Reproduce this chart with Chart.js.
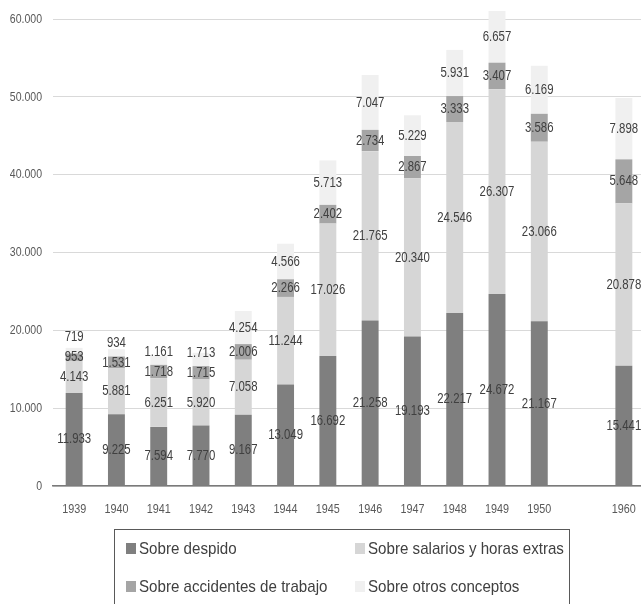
<!DOCTYPE html>
<html>
<head>
<meta charset="utf-8">
<script src="https://cdn.jsdelivr.net/npm/chart.js@4/dist/chart.umd.min.js"></script>
<style>
  html, body { margin: 0; padding: 0; background: #fff; overflow: hidden; }
  #wrap { width: 641px; height: 604px; position: relative; overflow: hidden; }
</style>
</head>
<body>
<div id="wrap"><canvas id="chart" width="645" height="604"></canvas></div>
<script>
// Years on the x axis; the blank slot keeps the gap before 1960
const years = ["1939", "1940", "1941", "1942", "1943", "1944", "1945", "1946", "1947", "1948", "1949", "1950", "", "1960"];

const despido = [11933, 9225, 7594, 7770, 9167, 13049, 16692, 21258, 19193, 22217, 24672, 21167, null, 15441];
const salarios = [4143, 5881, 6251, 5920, 7058, 11244, 17026, 21765, 20340, 24546, 26307, 23066, null, 20878];
const accidentes = [953, 1531, 1718, 1715, 2006, 2266, 2402, 2734, 2867, 3333, 3407, 3586, null, 5648];
const otros = [719, 934, 1161, 1713, 4254, 4566, 5713, 7047, 5229, 5931, 6657, 6169, null, 7898];

const seriesNames = ["Sobre despido", "Sobre salarios y horas extras", "Sobre accidentes de trabajo", "Sobre otros conceptos"];
const seriesColors = ["#7f7f7f", "#d6d6d6", "#a5a5a5", "#f0f0f0"];

const FONT = "'Liberation Sans', Arial, sans-serif";

function fmt(v) {
  return String(Math.round(v)).replace(/\B(?=(\d{3})+(?!\d))/g, ".");
}

// draw text squeezed horizontally (narrow look)
function drawNarrow(ctx, text, x, y, sx, align) {
  ctx.save();
  ctx.translate(x, y);
  ctx.scale(sx, 1);
  ctx.textAlign = align;
  ctx.fillText(text, 0, 0);
  ctx.restore();
}

// axis labels in the same narrow style; the library's own ticks stay hidden
const narrowTicks = {
  id: "narrowTicks",
  afterDraw(chart) {
    const ctx = chart.ctx;
    const xs = chart.scales.x;
    const ys = chart.scales.y;
    ctx.save();
    ctx.font = "13.5px " + FONT;
    ctx.fillStyle = "#595959";
    ctx.textBaseline = "middle";
    ys.ticks.forEach((t, i) => {
      drawNarrow(ctx, fmt(t.value), chart.chartArea.left - 11, ys.getPixelForTick(i), 0.78, "right");
    });
    xs.ticks.forEach((t, i) => {
      drawNarrow(ctx, chart.data.labels[i], xs.getPixelForTick(i), chart.chartArea.bottom + 23, 0.8, "center");
    });
    ctx.restore();
  },
};

// value labels centred in each segment; the small top segment is nudged up
// so it doesn't sit on top of the label underneath
const segmentLabels = {
  id: "segmentLabels",
  afterDatasetsDraw(chart) {
    const ctx = chart.ctx;
    ctx.save();
    ctx.font = "15px " + FONT;
    ctx.fillStyle = "#404040";
    ctx.textBaseline = "middle";
    const n = chart.data.labels.length;
    for (let i = 0; i < n; i++) {
      let prevY = null;
      chart.data.datasets.forEach((ds, d) => {
        const v = ds.data[i];
        if (v == null) return;
        const el = chart.getDatasetMeta(d).data[i];
        let y = (el.y + el.base) / 2;
        if (d === chart.data.datasets.length - 1 && prevY !== null) {
          y = Math.min(y, prevY - 20);
        }
        drawNarrow(ctx, fmt(v), el.x, y, 0.76, "center");
        prevY = y;
      });
    }
    ctx.restore();
  },
};

// boxed two-column legend under the axis
const boxLegend = {
  id: "boxLegend",
  afterDraw(chart) {
    const ctx = chart.ctx;
    ctx.save();
    ctx.strokeStyle = "#595959";
    ctx.lineWidth = 1;
    ctx.strokeRect(114.5, 529.5, 455, 100);
    const cols = [126, 355];
    const rows = [548, 586];
    ctx.font = "17px " + FONT;
    ctx.textBaseline = "middle";
    chart.data.datasets.forEach((ds, d) => {
      const x = cols[d % 2];
      const y = rows[Math.floor(d / 2)];
      ctx.fillStyle = ds.backgroundColor;
      ctx.fillRect(x, y - 5, 10, 11);
      ctx.fillStyle = "#404040";
      drawNarrow(ctx, ds.label, x + 13, y + 1, 0.89, "left");
    });
    ctx.restore();
  },
};

const seriesData = [despido, salarios, accidentes, otros];
const hidden = "rgba(0,0,0,0)";

new Chart(document.getElementById("chart"), {
  type: "bar",
  data: {
    labels: years,
    datasets: seriesData.map((data, k) => ({
      label: seriesNames[k],
      data: data,
      backgroundColor: seriesColors[k],
      borderWidth: 0,
      barPercentage: 0.4,
      categoryPercentage: 1,
      clip: false,
    })),
  },
  options: {
    responsive: false,
    animation: false,
    layout: { padding: { top: 19, right: 0, bottom: 88, left: 0 } },
    plugins: {
      legend: { display: false },
      tooltip: { enabled: false },
    },
    scales: {
      x: {
        stacked: true,
        grid: { display: false, drawTicks: false },
        border: { display: true, color: "#7a7a7a", width: 1.5 },
        ticks: { color: hidden, font: { family: FONT, size: 11 }, autoSkip: false, maxRotation: 0 },
        afterFit(scale) { scale.height = 30; },
      },
      y: {
        stacked: true,
        min: 0,
        max: 60000,
        grid: { color: "#d9d9d9", lineWidth: 1, drawTicks: false },
        border: { display: false },
        ticks: { stepSize: 10000, color: hidden, font: { family: FONT, size: 11 }, callback: (v) => fmt(v) },
        afterFit(scale) { scale.width = 53; },
      },
    },
  },
  plugins: [segmentLabels, narrowTicks, boxLegend],
});
</script>
</body>
</html>
